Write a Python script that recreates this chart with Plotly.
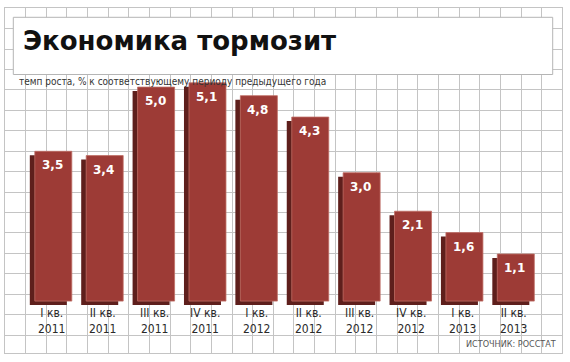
import plotly.graph_objects as go

# ---- data ----
quarters = ["I кв.", "II кв.", "III кв.", "IV кв.", "I кв.", "II кв.", "III кв.", "IV кв.", "I кв.", "II кв."]
years = ["2011", "2011", "2011", "2011", "2012", "2012", "2012", "2012", "2013", "2013"]
growth = [3.5, 3.4, 5.0, 5.1, 4.8, 4.3, 3.0, 2.1, 1.6, 1.1]
value_labels = [f"{v:.1f}".replace(".", ",") for v in growth]
title_text = "Экономика тормозит"
subtitle_text = "темп роста, % к соответствующему периоду предыдущего года"
source_text = "ИСТОЧНИК: РОССТАТ"

W, H = 570, 362
idx = list(range(len(growth)))

FRONT = "#9d3b36"
SIDE = "#5e1f1c"
EDGE = "#bf6d65"
GRID = "#c4c4c4"
NARROW = "Liberation Sans Narrow, DejaVu Sans Condensed, Liberation Sans"

bar_w = 0.72
side_dx = 0.097
side_dy = 0.093

fig = go.Figure()

# invisible anchor trace so the background grid subplot gets drawn
fig.add_trace(go.Scatter(x=[0], y=[0], mode="markers", marker=dict(opacity=0),
                         xaxis="x", yaxis="y", hoverinfo="skip", showlegend=False))

# shadow / side faces
fig.add_trace(go.Bar(
    x=idx, y=growth, base=-side_dy, width=bar_w, offset=-bar_w / 2 - side_dx,
    marker=dict(color=SIDE, line=dict(width=0)),
    xaxis="x2", yaxis="y2", hoverinfo="skip", showlegend=False,
))
# front faces
fig.add_trace(go.Bar(
    x=idx, y=growth, base=0, width=bar_w, offset=-bar_w / 2,
    marker=dict(color=FRONT, line=dict(width=0.8, color=EDGE)),
    xaxis="x2", yaxis="y2", showlegend=False,
))

annotations = []
for i, v in enumerate(growth):
    annotations.append(dict(
        x=i, y=v, xref="x2", yref="y2", text=value_labels[i], showarrow=False,
        yanchor="middle", xanchor="center", yshift=-14, xshift=-1,
        font=dict(family="DejaVu Sans", size=12, color="white", weight="bold"),
    ))
    annotations.append(dict(
        x=i, y=0, xref="x2", yref="y2", text=quarters[i] + "<br>" + years[i], showarrow=False,
        yanchor="middle", xanchor="center", yshift=-20, xshift=-2,
        font=dict(family=NARROW, size=12, color="#2a2a2a"),
    ))

annotations += [
    dict(x=21 / W, y=1 - 41 / H, xref="paper", yref="paper", text=title_text,
         showarrow=False, xanchor="left", yanchor="middle",
         font=dict(family="DejaVu Sans", size=26, color="#111111", weight="bold")),
    dict(x=17 / W, y=1 - 82 / H, xref="paper", yref="paper", text=subtitle_text,
         showarrow=False, xanchor="left", yanchor="middle",
         font=dict(family=NARROW, size=10, color="#333333")),
    dict(x=558 / W, y=1 - 344 / H, xref="paper", yref="paper", text=source_text,
         showarrow=False, xanchor="right", yanchor="middle",
         font=dict(family=NARROW, size=9, color="#555555")),
]

# bar axes geometry
px_per_x = 51.39
x0 = -53.3 / px_per_x
x1 = x0 + W / px_per_x
px_per_y = 42.8
zero_px = 301.1
bottom_px = 307
y_lo = -(bottom_px - zero_px) / px_per_y
y_hi = zero_px / px_per_y

grid_cols = 27
grid_rows = (353.3 - 8.3) / 20.42

fig.update_layout(
    width=W, height=H,
    margin=dict(l=0, r=0, t=0, b=0, pad=0, autoexpand=False),
    paper_bgcolor="white",
    plot_bgcolor="rgba(0,0,0,0)",
    barmode="overlay",
    showlegend=False,
    xaxis=dict(domain=[5 / W, 562.3 / W], range=[0, grid_cols], dtick=1, tick0=0,
               showgrid=True, gridcolor=GRID, gridwidth=1, showticklabels=False,
               ticks="", zeroline=False, showline=True, linecolor=GRID, linewidth=1,
               mirror=True, anchor="y", fixedrange=True),
    yaxis=dict(domain=[1 - 353.3 / H, 1 - 8.3 / H], range=[grid_rows, 0], dtick=1, tick0=0,
               showgrid=True, gridcolor=GRID, gridwidth=1, showticklabels=False,
               ticks="", zeroline=False, showline=True, linecolor=GRID, linewidth=1,
               mirror=True, anchor="x", fixedrange=True),
    xaxis2=dict(domain=[0, 1], range=[x0, x1], visible=False, anchor="y2", fixedrange=True),
    yaxis2=dict(domain=[1 - bottom_px / H, 1], range=[y_lo, y_hi], visible=False,
                anchor="x2", fixedrange=True),
    shapes=[dict(type="rect", xref="paper", yref="paper",
                 x0=13.3 / W, x1=552.7 / W, y0=1 - 74.5 / H, y1=1 - 17.3 / H,
                 fillcolor="white", line=dict(color="#b5b5b5", width=1), layer="above")],
    annotations=annotations,
)

fig.write_html("out.html", config={"displayModeBar": False},
               post_script="document.body.style.margin='0px';document.body.style.overflow='hidden';")
